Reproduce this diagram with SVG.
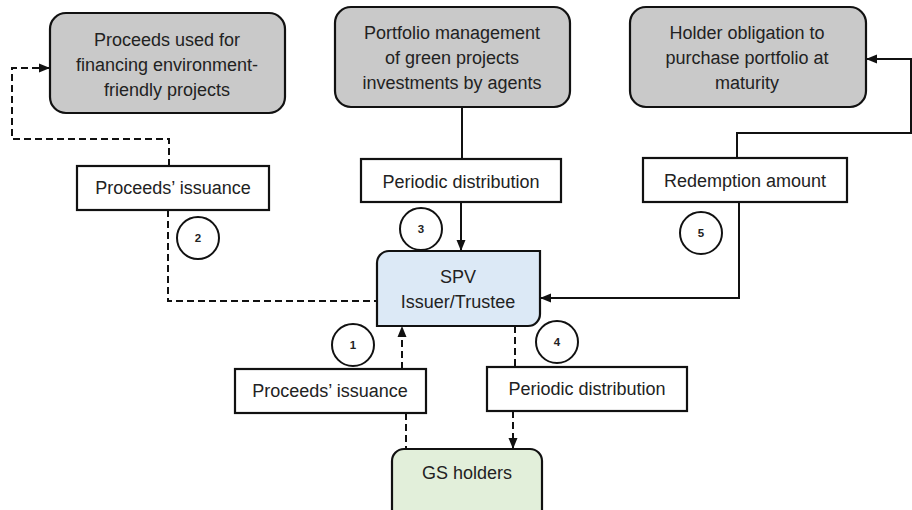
<svg xmlns="http://www.w3.org/2000/svg" width="912" height="510" viewBox="0 0 912 510">
<defs>
<marker id="ah" markerUnits="userSpaceOnUse" markerWidth="12" markerHeight="12" viewBox="0 0 12 12" refX="11" refY="6" orient="auto">
<path d="M0,1.5 L11,6 L0,10.5 Z" fill="#111"/>
</marker>
</defs>
<style>
text{font-family:"Liberation Sans",Arial,sans-serif;fill:#222;text-anchor:middle}
.t{font-size:18px}
.n{font-size:11.5px;font-weight:bold}
.gray{fill:#c9c9c9;stroke:#111;stroke-width:2.2}
.lbl{fill:#fff;stroke:#111;stroke-width:2.2}
.circ{fill:#fff;stroke:#111;stroke-width:2}
.ln{fill:none;stroke:#111;stroke-width:2}
.ds{stroke-dasharray:7 4}
</style>
<g id="connectors">
<path class="ln ds" d="M169,166 V139 H12 V68 H50" marker-end="url(#ah)"/>
<path class="ln ds" d="M168,210 V301 H377"/>
<path class="ln" d="M462,107 V159"/>
<path class="ln" d="M461,202 V251" marker-end="url(#ah)"/>
<path class="ln" d="M737,158 V133 H911 V59 H866" marker-end="url(#ah)"/>
<path class="ln" d="M739,202 V298 H540" marker-end="url(#ah)"/>
<path class="ln ds" d="M402,369 V326" marker-end="url(#ah)"/>
<path class="ln ds" d="M515,326 V367"/>
<path class="ln ds" d="M406,413 V449"/>
<path class="ln ds" d="M513,411 V449" marker-end="url(#ah)"/>
</g>
<g id="proceeds-used">
<rect class="gray" x="50" y="13" width="235" height="100" rx="16"/>
<text class="t" x="167" y="46">Proceeds used for</text>
<text class="t" x="167" y="71">financing environment-</text>
<text class="t" x="167" y="96">friendly projects</text>
</g>
<g id="portfolio-management">
<rect class="gray" x="335" y="7" width="235" height="100" rx="16"/>
<text class="t" x="452" y="39">Portfolio management</text>
<text class="t" x="452" y="64">of green projects</text>
<text class="t" x="452" y="89">investments by agents</text>
</g>
<g id="holder-obligation">
<rect class="gray" x="630" y="7" width="236" height="100" rx="16"/>
<text class="t" x="747" y="39">Holder obligation to</text>
<text class="t" x="747" y="64">purchase portfolio at</text>
<text class="t" x="747" y="89">maturity</text>
</g>
<g id="label-proceeds-top">
<rect class="lbl" x="77" y="166" width="192" height="44"/>
<text class="t" x="173" y="194">Proceeds’ issuance</text>
</g>
<g id="label-periodic-top">
<rect class="lbl" x="361" y="159" width="200" height="43"/>
<text class="t" x="461" y="188">Periodic distribution</text>
</g>
<g id="label-redemption">
<rect class="lbl" x="643" y="158" width="204" height="44"/>
<text class="t" x="745" y="187">Redemption amount</text>
</g>
<g id="spv">
<path d="M389,251 H540 V314 A12,12 0 0 1 528,326 H377 V263 A12,12 0 0 1 389,251 Z" fill="#dce9f6" stroke="#111" stroke-width="2.2"/>
<text class="t" x="458" y="283">SPV</text>
<text class="t" x="458" y="308">Issuer/Trustee</text>
</g>
<g id="label-proceeds-bottom">
<rect class="lbl" x="235" y="369" width="191" height="44"/>
<text class="t" x="330" y="397">Proceeds’ issuance</text>
</g>
<g id="label-periodic-bottom">
<rect class="lbl" x="487" y="367" width="200" height="44"/>
<text class="t" x="587" y="395">Periodic distribution</text>
</g>
<g id="gs-holders">
<path d="M392,514 V461 A12,12 0 0 1 404,449 H530 A12,12 0 0 1 542,461 V514" fill="#e2efda" stroke="#111" stroke-width="2.2"/>
<text class="t" x="467" y="479">GS holders</text>
</g>
<g id="step-1"><circle class="circ" cx="353" cy="345" r="21"/><text class="n" x="353" y="349">1</text></g>
<g id="step-2"><circle class="circ" cx="198" cy="238" r="21"/><text class="n" x="198" y="242">2</text></g>
<g id="step-3"><circle class="circ" cx="421" cy="229" r="21"/><text class="n" x="421" y="233">3</text></g>
<g id="step-4"><circle class="circ" cx="557" cy="342" r="21"/><text class="n" x="557" y="346">4</text></g>
<g id="step-5"><circle class="circ" cx="701" cy="233" r="21"/><text class="n" x="701" y="237">5</text></g>
</svg>
